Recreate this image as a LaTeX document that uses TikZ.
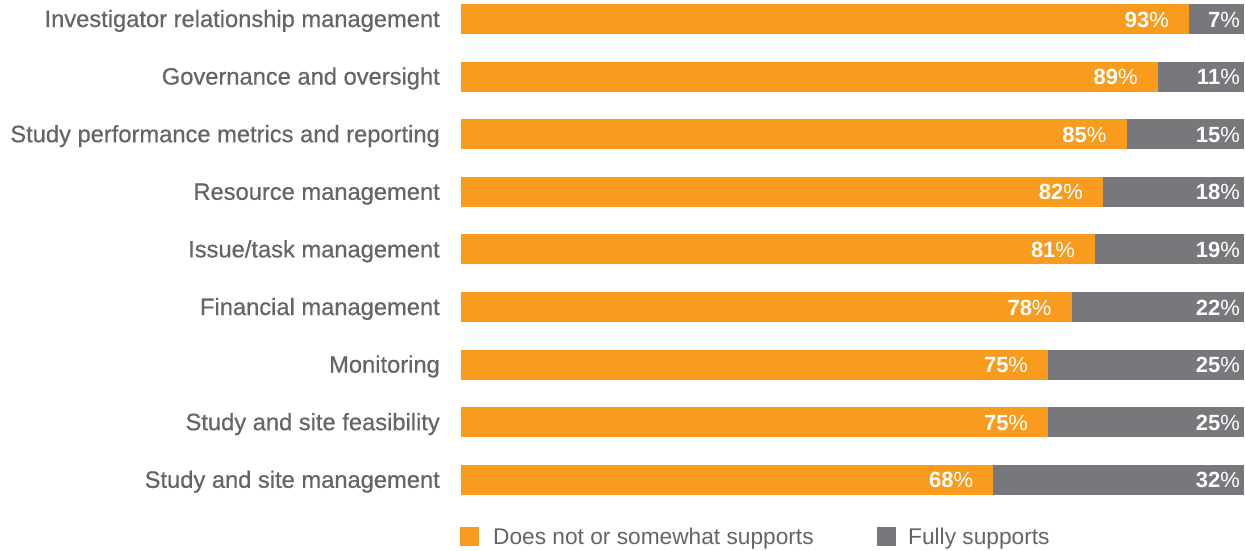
\documentclass[tikz,border=0pt]{standalone}
\usepackage{fontspec}
\setmainfont{Liberation Sans}
\newfontfamily\labfont{Liberation Sans}[FakeBold=0.5]
\definecolor{barorange}{HTML}{F99B1C}
\definecolor{bargray}{HTML}{77787B}
\definecolor{labgray}{HTML}{646568}
\begin{document}
\begin{tikzpicture}[x=1pt,y=-1pt,
  cat/.style={anchor=base east,inner sep=0pt,text=labgray,font=\labfont\fontsize{23.7}{26}\selectfont},
  pct/.style={anchor=base east,inner sep=0pt,text=white,font=\fontsize{22}{24}\selectfont},
  leg/.style={anchor=base west,inner sep=0pt,text=labgray,font=\fontsize{22.7}{26}\selectfont}]
\useasboundingbox[fill=white] (0,0) rectangle (1245,550);
\def\xa{461}\def\xb{1244}
\foreach \i/\lab/\p in {0/Investigator relationship management/93,
  1/Governance and oversight/89,
  2/Study performance metrics and reporting/85,
  3/Resource management/82,
  4/Issue\slash task management/81,
  5/Financial management/78,
  6/Monitoring/75,
  7/Study and site feasibility/75,
  8/Study and site management/68}{
  \pgfmathsetmacro{\yc}{19+57.6*\i}
  \pgfmathsetmacro{\xm}{\xa+(\xb-\xa)*(\p/100)}
  \pgfmathtruncatemacro{\q}{100-\p}
  \fill[barorange] (\xa,\yc-15) rectangle (\xm,\yc+15);
  \fill[bargray] (\xm,\yc-15) rectangle (\xb,\yc+15);
  \node[cat] (c\i) at (440,\yc+8) {\lab};
  \node[pct] (o\i) at (\xm-20,\yc+8) {\textbf{\p}\%};
  \node[pct] (g\i) at (1240,\yc+8) {\textbf{\q}\%};
}
\fill[barorange] (460,527) rectangle (479,546);
\node[leg] (l1) at (493,544.3) {Does not or somewhat supports};
\fill[bargray] (877,527) rectangle (896,546);
\node[leg] (l2) at (908,544.3) {Fully supports};
\end{tikzpicture}
\end{document}
